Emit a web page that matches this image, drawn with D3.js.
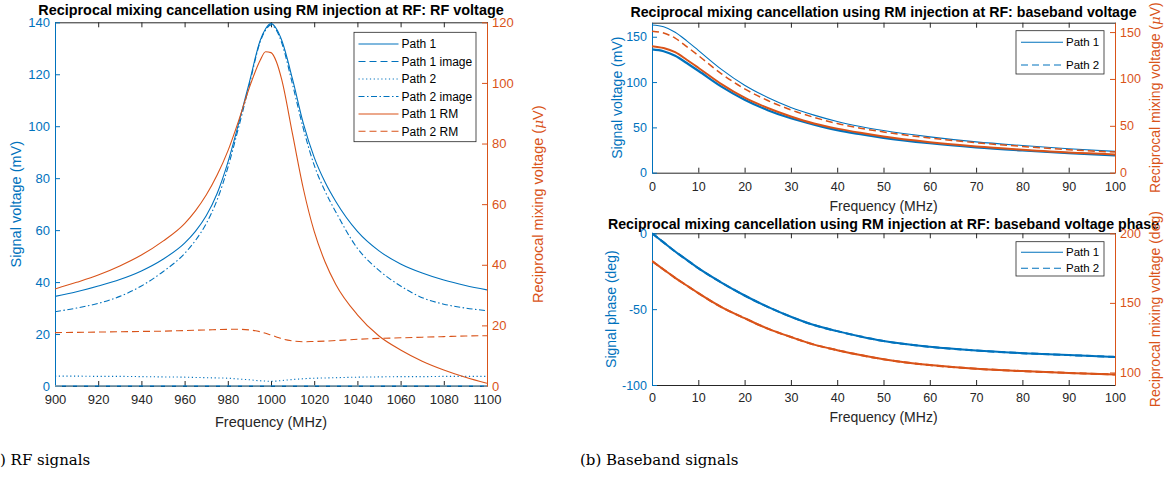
<!DOCTYPE html>
<html>
<head>
<meta charset="utf-8">
<script src="https://cdn.jsdelivr.net/npm/d3@7"></script>
<style>
  body { margin: 0; background: #fff; }
  svg text { font-family: "Liberation Sans", Arial, sans-serif; }
</style>
</head>
<body>
<svg id="canvas" width="1167" height="480"></svg>
<script>
'use strict';

// matlab default colours
var blue = '#0072BD';
var orange = '#D95319';
var axisGrey = '#262626';

/* (a) RF signals: frequency grid in MHz, voltages in mV (left) and uV (right) */
var rfFreq = [900, 910, 920, 930, 940, 950, 960, 965, 970, 975, 980, 985, 990, 995, 997.5,
  1000, 1002.5, 1005, 1010, 1015, 1020, 1025, 1030, 1040, 1050, 1060, 1070, 1080, 1090, 1100];
var rfPath1 = [34.5, 36.3, 38.5, 41, 44.3, 48.8, 55, 59.5, 65.5, 74, 86, 101, 117, 133, 137.5,
  139.5, 137.5, 133, 118, 101, 88, 78.5, 71, 59.5, 52, 47, 43.5, 40.8, 38.7, 37];
var rfPath1Image = [0, 0, 0, 0, 0, 0, 0, 0, 0, 0, 0, 0, 0, 0, 0,
  0, 0, 0, 0, 0, 0, 0, 0, 0, 0, 0, 0, 0, 0, 0];
var rfPath2 = [3.8, 3.8, 3.7, 3.7, 3.6, 3.5, 3.4, 3.3, 3.2, 3.1, 3.0, 2.7, 2.4, 2.0, 1.9,
  1.8, 1.9, 2.1, 2.5, 2.8, 3.0, 3.1, 3.2, 3.4, 3.5, 3.6, 3.6, 3.7, 3.7, 3.7];
var rfPath2Image = [28.6, 30, 31.8, 34.5, 38.5, 44, 51, 56, 62.5, 71.5, 84, 99.5, 116, 132.5, 137,
  139, 137, 132, 116, 99, 85, 75, 67, 53, 44.5, 38.5, 34, 31.5, 30, 29];
var rfPath1RM = [32, 34.2, 36.6, 39.6, 43.2, 47.8, 53.6, 57.8, 63, 69.5, 77.5, 87.5, 98.5, 107.5, 110.3,
  110, 107, 101, 83, 65, 51, 41, 33.5, 23.5, 16.5, 11.9, 8.2, 5.3, 2.9, 0.9];
var rfPath2RM = [17.6, 17.7, 17.8, 17.9, 18.0, 18.1, 18.3, 18.4, 18.5, 18.6, 18.7, 18.7, 18.5, 17.9, 17.4,
  16.8, 16.2, 15.6, 14.9, 14.6, 14.7, 14.8, 15.0, 15.4, 15.7, 15.9, 16.1, 16.3, 16.5, 16.6];

/* (b) baseband signals */
var bbFreq = [0, 2.5, 5, 7.5, 10, 15, 20, 25, 30, 35, 40, 45, 50, 60, 70, 80, 90, 100];
var bbPath1 = [163, 161, 155, 145.5, 135, 114, 96.5, 83, 72, 63.5, 56.5, 51, 46.5, 39.5, 34, 30, 26.5, 23.5];
var bbPath2 = [136, 134, 129, 121, 112.5, 95, 80.5, 69, 60, 53, 47, 42.5, 38.5, 32.5, 28, 24.5, 21.5, 19];
var bbPath1RM = [135, 133, 128.5, 120.5, 112, 94.5, 80, 69, 60, 52.5, 47, 42.5, 38.5, 32.5, 28, 24.5, 21.5, 19.5];
var bbPath2RM = [151, 149, 143.5, 134.5, 125, 105.5, 89.5, 77, 67, 59, 52.5, 47.5, 43.5, 37, 32, 28, 24.5, 22];
var bbPhase1 = [0, -6, -12, -17.5, -23, -32.5, -41, -48.5, -55, -60.5, -64.5, -68, -71, -74.8, -77.3, -79, -80.3, -81.5];
var bbPhase2 = [0, -6, -12, -17.5, -23, -32.5, -41, -48.5, -55, -60.5, -64.5, -68, -71, -74.8, -77.3, -79, -80.3, -81.5];
var bbPhase1RM = [180, 174, 168, 162.5, 157, 147, 139, 131.5, 125.5, 120, 116, 112.5, 109.5, 105.3, 102.7, 101, 99.7, 98.5];
var bbPhase2RM = [180, 174, 168, 162.5, 157, 147, 139, 131.5, 125.5, 120, 116, 112.5, 109.5, 105.3, 102.7, 101, 99.7, 98.5];

/* tick values */
var rfTicks = [900, 920, 940, 960, 980, 1000, 1020, 1040, 1060, 1080, 1100];
var bbTicks = [0, 10, 20, 30, 40, 50, 60, 70, 80, 90, 100];

var dashes = { solid: null, dashed: '7,4', dotted: '1.2,2.6', dashdot: '6,2.5,1.5,2.5' };

var svg = d3.select('svg#canvas');
var clipId = 0;

/**
 * Draw one matlab style panel with two y axes (yyaxis left / right)
 */
function drawPanel(cfg){
  var g = svg.append('g');
  var x = d3.scaleLinear().domain(cfg.xDomain).range([cfg.left, cfg.right]);
  var yL = d3.scaleLinear().domain(cfg.yLeft).range([cfg.bottom, cfg.top]);
  var yR = d3.scaleLinear().domain(cfg.yRight).range([cfg.bottom, cfg.top]);
  var tick = 5;
  // plain hyphen minus like matlab, no thousands separator
  var fmt = function(d){ return String(d); };

  /* axes first, data is drawn on top */
  var bottom = g.append('g')
    .attr('transform', 'translate(0,' + cfg.bottom + ')')
    .call(d3.axisBottom(x).tickValues(cfg.xTicks).tickFormat(fmt)
      .tickSizeInner(-tick).tickSizeOuter(0).tickPadding(cfg.xPad));
  var top = g.append('g')
    .attr('transform', 'translate(0,' + cfg.top + ')')
    .call(d3.axisTop(x).tickValues(cfg.xTicks).tickSizeInner(-tick).tickSizeOuter(0).tickFormat(''));
  [bottom, top].forEach(function(a){
    a.selectAll('path.domain').attr('stroke', axisGrey);
    a.selectAll('line').attr('stroke', axisGrey);
  });
  bottom.selectAll('text').attr('fill', axisGrey).style('font-size', cfg.tickFont + 'px');

  var left = g.append('g')
    .attr('transform', 'translate(' + cfg.left + ',0)')
    .call(d3.axisLeft(yL).tickValues(cfg.yLeftTicks).tickFormat(fmt)
      .tickSizeInner(-tick).tickSizeOuter(0).tickPadding(cfg.yPad));
  var right = g.append('g')
    .attr('transform', 'translate(' + cfg.right + ',0)')
    .call(d3.axisRight(yR).tickValues(cfg.yRightTicks).tickFormat(fmt)
      .tickSizeInner(-tick).tickSizeOuter(0).tickPadding(cfg.yPad));
  left.selectAll('path.domain, line').attr('stroke', blue);
  left.selectAll('text').attr('fill', blue).style('font-size', cfg.tickFont + 'px');
  right.selectAll('path.domain, line').attr('stroke', orange);
  right.selectAll('text').attr('fill', orange).style('font-size', cfg.tickFont + 'px');

  /* data lines, clipped to the plot box */
  clipId += 1;
  g.append('clipPath').attr('id', 'clip' + clipId)
    .append('rect')
      .attr('x', cfg.left).attr('y', cfg.top - 1)
      .attr('width', cfg.right - cfg.left).attr('height', cfg.bottom - cfg.top + 2);
  var lines = g.append('g').attr('clip-path', 'url(#clip' + clipId + ')');
  cfg.series.forEach(function(s){
    var y = s.axis === 'right' ? yR : yL;
    var line = d3.line()
      .x(function(d){ return x(d[0]); })
      .y(function(d){ return y(d[1]); })
      .curve(d3.curveMonotoneX);
    var pts = cfg.freq.map(function(f, i){ return [f, s.values[i]]; });
    lines.append('path')
      .attr('d', line(pts))
      .attr('fill', 'none')
      .attr('stroke', s.stroke || s.color)
      .attr('stroke-width', s.width || 1.1)
      .attr('stroke-dasharray', dashes[s.style]);
  });

  /* title and labels */
  g.append('text')
    .attr('x', (cfg.left + cfg.right) / 2).attr('y', cfg.titleY)
    .attr('text-anchor', 'middle').attr('font-weight', 'bold')
    .style('font-size', cfg.titleFont + 'px')
    .attr('fill', '#000')
    .text(cfg.title);
  g.append('text')
    .attr('x', (cfg.left + cfg.right) / 2).attr('y', cfg.xLabelY)
    .attr('text-anchor', 'middle')
    .style('font-size', cfg.labelFont + 'px')
    .attr('fill', axisGrey)
    .text('Frequency (MHz)');
  var midY = (cfg.top + cfg.bottom) / 2;
  g.append('text')
    .attr('transform', 'translate(' + cfg.yLabelLeftX + ',' + midY + ') rotate(-90)')
    .attr('text-anchor', 'middle').attr('dy', '0.35em')
    .style('font-size', cfg.labelFont + 'px')
    .attr('fill', blue)
    .text(cfg.yLabelLeft);
  var rl = g.append('text')
    .attr('transform', 'translate(' + cfg.yLabelRightX + ',' + midY + ') rotate(-90)')
    .attr('text-anchor', 'middle').attr('dy', '0.35em')
    .style('font-size', cfg.labelFont + 'px')
    .attr('fill', orange);
  rl.append('tspan').text(cfg.yLabelRight[0]);
  if(cfg.yLabelRight.length > 1){
    rl.append('tspan').attr('font-style', 'italic').style('font-family', '"DejaVu Serif", serif')
      .style('font-size', (cfg.labelFont * 0.95) + 'px').text(cfg.yLabelRight[1]);
    rl.append('tspan').text(cfg.yLabelRight[2]);
  }

  /* legend */
  var L = cfg.legend;
  var lg = g.append('g');
  lg.append('rect')
    .attr('x', L.x0).attr('y', L.y0)
    .attr('width', L.x1 - L.x0).attr('height', L.y1 - L.y0)
    .attr('fill', '#fff').attr('stroke', axisGrey).attr('stroke-width', 0.8);
  L.entries.forEach(function(e, i){
    var yy = L.rows[i];
    lg.append('line')
      .attr('x1', L.lineX0).attr('x2', L.lineX1)
      .attr('y1', yy).attr('y2', yy)
      .attr('stroke', e.color).attr('stroke-width', 1.1)
      .attr('stroke-dasharray', dashes[e.style]);
    lg.append('text')
      .attr('x', L.textX).attr('y', yy).attr('dy', '0.35em')
      .style('font-size', L.font + 'px')
      .attr('fill', '#000')
      .text(e.label);
  });
}

/* (a) RF voltage */
drawPanel({
  left: 55, right: 487, top: 22.3, bottom: 386,
  xDomain: [900, 1100], xTicks: rfTicks,
  yLeft: [0, 140], yLeftTicks: d3.range(0, 141, 20),
  yRight: [0, 120], yRightTicks: d3.range(0, 121, 20),
  xPad: 9, yPad: 5, tickFont: 13, labelFont: 14.5, titleFont: 14.4,
  titleY: 14.5, xLabelY: 426.5,
  yLabelLeftX: 16, yLabelRightX: 538,
  title: 'Reciprocal mixing cancellation using RM injection at RF: RF voltage',
  yLabelLeft: 'Signal voltage (mV)',
  yLabelRight: ['Reciprocal mixing voltage (', '\u03bc', 'V)'],
  freq: rfFreq,
  series: [
    { values: rfPath1Image, axis: 'left', color: blue, style: 'solid', width: 1.6 },
    { values: rfPath1Image, axis: 'left', color: blue, stroke: '#c8b09a', style: 'dashed', width: 1.2 },
    { values: rfPath2, axis: 'left', color: blue, style: 'dotted', width: 1.1 },
    { values: rfPath2Image, axis: 'left', color: blue, style: 'dashdot' },
    { values: rfPath1, axis: 'left', color: blue, style: 'solid' },
    { values: rfPath1RM, axis: 'right', color: orange, style: 'solid' },
    { values: rfPath2RM, axis: 'right', color: orange, style: 'dashed' }
  ],
  legend: {
    x0: 354, x1: 476, y0: 32.3, y1: 141.7, lineX0: 358.5, lineX1: 398.5, textX: 401.5, font: 12,
    rows: [44, 61.5, 79, 96.5, 114, 131.3],
    entries: [
      { label: 'Path 1', color: blue, style: 'solid' },
      { label: 'Path 1 image', color: blue, style: 'dashed' },
      { label: 'Path 2', color: blue, style: 'dotted' },
      { label: 'Path 2 image', color: blue, style: 'dashdot' },
      { label: 'Path 1 RM', color: orange, style: 'solid' },
      { label: 'Path 2 RM', color: orange, style: 'dashed' }
    ]
  }
});

/* (b) baseband voltage */
drawPanel({
  left: 652, right: 1115, top: 22.7, bottom: 172.7,
  xDomain: [0, 100], xTicks: bbTicks,
  yLeft: [0, 165.5], yLeftTicks: [0, 50, 100, 150],
  yRight: [0, 160], yRightTicks: [0, 50, 100, 150],
  xPad: 9, yPad: 5, tickFont: 12.5, labelFont: 14, titleFont: 14.2,
  titleY: 17, xLabelY: 210.6,
  yLabelLeftX: 617, yLabelRightX: 1155,
  title: 'Reciprocal mixing cancellation using RM injection at RF: baseband voltage',
  yLabelLeft: 'Signal voltage (mV)',
  yLabelRight: ['Reciprocal mixing voltage (', '\u03bc', 'V)'],
  freq: bbFreq,
  series: [
    { values: bbPath1, axis: 'left', color: blue, style: 'solid', width: 1.1 },
    { values: bbPath2, axis: 'left', color: blue, style: 'solid', width: 2.2 },
    { values: bbPath1RM, axis: 'right', color: orange, style: 'solid', width: 2 },
    { values: bbPath2RM, axis: 'right', color: orange, style: 'dashed', width: 1.5 }
  ],
  legend: {
    x0: 1016, x1: 1104, y0: 30.7, y1: 74, lineX0: 1021, lineX1: 1063, textX: 1066, font: 11.5,
    rows: [42.3, 65],
    entries: [
      { label: 'Path 1', color: blue, style: 'solid' },
      { label: 'Path 2', color: blue, style: 'dashed' }
    ]
  }
});

/* (b) baseband phase */
drawPanel({
  left: 652, right: 1115, top: 233.3, bottom: 385,
  xDomain: [0, 100], xTicks: bbTicks,
  yLeft: [-100, 0], yLeftTicks: [-100, -50, 0],
  yRight: [91, 200], yRightTicks: [100, 150, 200],
  xPad: 8, yPad: 5, tickFont: 12.5, labelFont: 14, titleFont: 14.2,
  titleY: 228.9, xLabelY: 422.2,
  yLabelLeftX: 611, yLabelRightX: 1155,
  title: 'Reciprocal mixing cancellation using RM injection at RF: baseband voltage phase',
  yLabelLeft: 'Signal phase (deg)',
  yLabelRight: ['Reciprocal mixing voltage (deg)'],
  freq: bbFreq,
  series: [
    { values: bbPhase1, axis: 'left', color: blue, style: 'solid', width: 2 },
    { values: bbPhase2, axis: 'left', color: blue, style: 'dashed', width: 2 },
    { values: bbPhase1RM, axis: 'right', color: orange, style: 'solid', width: 2 },
    { values: bbPhase2RM, axis: 'right', color: orange, style: 'dashed', width: 2 }
  ],
  legend: {
    x0: 1016, x1: 1104, y0: 241.7, y1: 276, lineX0: 1021, lineX1: 1063, textX: 1066, font: 11.5,
    rows: [252.3, 268.3],
    entries: [
      { label: 'Path 1', color: blue, style: 'solid' },
      { label: 'Path 2', color: blue, style: 'dashed' }
    ]
  }
});

/* sub-figure captions; "(a" runs off the left edge in the reference */
var capFont = 'font-family:"DejaVu Serif", serif; font-size:15px;';
var capA = svg.append('text').attr('y', 465).attr('style', capFont).attr('fill', '#000').text('(a');
var cut = capA.node().getComputedTextLength();
capA.text('(a) RF signals').attr('x', -cut);
svg.append('text').attr('x', 580).attr('y', 465).attr('style', capFont).attr('fill', '#000')
  .text('(b) Baseband signals');
</script>
</body>
</html>
